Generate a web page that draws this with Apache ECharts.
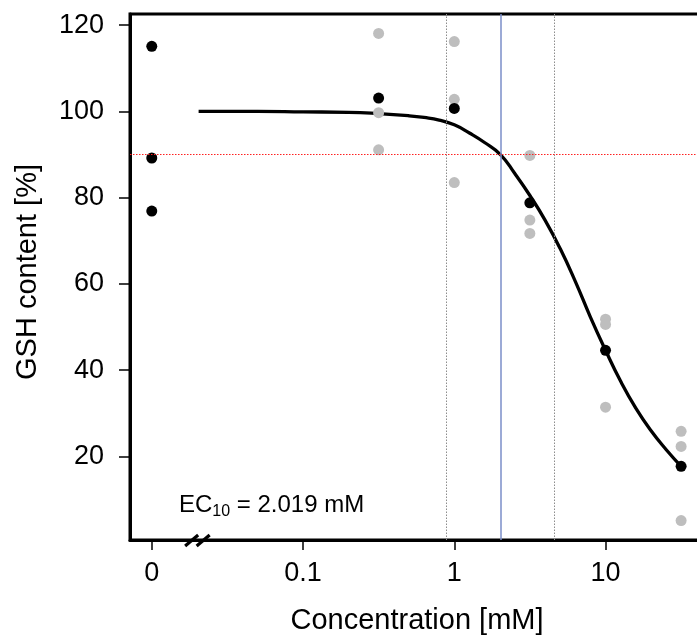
<!DOCTYPE html>
<html>
<head>
<meta charset="utf-8">
<script src="https://cdn.jsdelivr.net/npm/echarts@6/dist/echarts.min.js"></script>
<style>
html,body{margin:0;padding:0;background:#fff;}
#chart{width:697px;height:642px;}
</style>
</head>
<body>
<div id="chart"></div>
<script>
// ---- data (concentrations in mM; 0 = control, drawn at the 0.01 position of the log axis) ----
const controlConc = 0;
const controlPos = 0.01;
const controlValues = [115.1, 89.2, 76.9];
const doseConc = [0.316, 1, 3.16, 10, 31.6];
const replicates = [
  [118.1, 99.7, 91.1],
  [116.2, 102.8, 83.5],
  [89.8, 74.8, 71.7],
  [51.8, 50.6, 31.4],
  [25.8, 22.3, 5.1]
];
const doseMeans = [103.1, 100.7, 78.8, 44.6, 17.7];
// fitted curve
const curveConc = [0.0204, 0.05, 0.1, 0.2, 0.316, 0.5, 0.631, 0.794, 1, 1.259, 1.585, 2.019, 2.512, 3.162, 3.981, 5.012, 6.31, 7.943, 10, 12.59, 15.85, 19.95, 25.12, 31.6];
const curveValues = [100.0, 100.0, 99.9, 99.8, 99.5, 99.0, 98.6, 98.0, 96.9, 95.0, 92.8, 90.0, 85.6, 80.5, 74.8, 68.2, 60.6, 52.3, 44.6, 37.4, 31.2, 26.0, 21.6, 17.7];
// reference lines
const ec10 = 2.019;
const ec10Lower = 0.885;
const ec10Upper = 4.59;
const responseLevel = 90;
const breakConc = 0.0201;
// axes
const xTickConc = [0.01, 0.1, 1, 10];
const xTickLabels = ['0', '0.1', '1', '10'];
const yTicks = [20, 40, 60, 80, 100, 120];
const xMin = -2.144, xMax = 1.651;
const yMin = 0.6, yMax = 122.6;

const lg = v => Math.log10(v);
const xTickPos = xTickConc.map(lg);

const grayPts = [];
doseConc.forEach((c, i) => replicates[i].forEach(v => grayPts.push([lg(c), v])));
const blackPts = controlValues.map(v => [lg(controlPos), v]).concat(doseConc.map((c, i) => [lg(c), doseMeans[i]]));
const curvePts = curveConc.map((c, i) => [lg(c), curveValues[i]]);

const FONT = '"Liberation Sans", Arial, Helvetica, sans-serif';

const chart = echarts.init(document.getElementById('chart'), null, {renderer: 'canvas'});
chart.setOption({
  animation: false,
  backgroundColor: '#fff',
  textStyle: {fontFamily: FONT},
  grid: {left: 130, top: 14, width: 574, height: 526, outerBoundsMode: 'none', containLabel: false,
         show: true, borderColor: '#000', borderWidth: 3, backgroundColor: 'transparent'},
  xAxis: {
    type: 'value', min: xMin, max: xMax,
    axisLine: {show: true, onZero: false, lineStyle: {color: '#000', width: 3}},
    axisTick: {show: true, customValues: xTickPos, length: 10, lineStyle: {color: '#000', width: 1.5}},
    axisLabel: {
      show: true, customValues: xTickPos, margin: 20, fontSize: 27, color: '#000', fontFamily: FONT,
      formatter: v => {
        let best = 0;
        xTickPos.forEach((p, i) => { if (Math.abs(p - v) < Math.abs(xTickPos[best] - v)) best = i; });
        return xTickLabels[best];
      }
    },
    splitLine: {show: false},
    name: 'Concentration [mM]', nameLocation: 'middle', nameGap: 66,
    nameTextStyle: {fontSize: 29, color: '#000', fontFamily: FONT}
  },
  yAxis: {
    type: 'value', min: yMin, max: yMax,
    axisLine: {show: true, onZero: false, lineStyle: {color: '#000', width: 3}},
    axisTick: {show: true, customValues: yTicks, length: 11, lineStyle: {color: '#000', width: 1.5}},
    axisLabel: {show: true, customValues: yTicks, margin: 26, fontSize: 27, color: '#000', fontFamily: FONT},
    splitLine: {show: false},
    name: 'GSH content [%]', nameLocation: 'middle', nameGap: 88,
    nameTextStyle: {fontSize: 29, color: '#000', fontFamily: FONT, padding: [0, 0, 0, 10]}
  },
  series: [
    {
      type: 'line', data: [], silent: true, z: 1,
      markLine: {
        silent: true, symbol: ['none', 'none'], label: {show: false}, animation: false,
        data: [
          {xAxis: lg(ec10Lower), lineStyle: {color: '#8c8c8c', width: 1, type: [1.5, 1.5]}},
          {xAxis: lg(ec10Upper), lineStyle: {color: '#8c8c8c', width: 1, type: [1.5, 1.5]}},
          {xAxis: lg(ec10), lineStyle: {color: '#7b8ec8', width: 1.5, type: 'solid'}},
          {yAxis: responseLevel, lineStyle: {color: '#ff2020', width: 1, type: [1.5, 1.5]}}
        ]
      }
    },
    {
      type: 'line', data: curvePts, smooth: 0.5, symbol: 'none', z: 2,
      lineStyle: {color: '#000', width: 3.3}, silent: true
    },
    {
      type: 'scatter', data: grayPts, symbol: 'circle', symbolSize: 11, z: 3,
      itemStyle: {color: '#bebebe', opacity: 1}, silent: true
    },
    {
      type: 'scatter', data: blackPts, symbol: 'circle', symbolSize: 11, z: 4,
      itemStyle: {color: '#000', opacity: 1}, silent: true
    },
    {
      type: 'custom', data: [[lg(breakConc), yMin]], clip: false, z: 5, silent: true,
      renderItem: (params, api) => {
        const p = api.coord([api.value(0), api.value(1)]);
        return {
          type: 'group',
          children: [
            {type: 'line', shape: {x1: p[0] - 12.5, y1: p[1] + 6, x2: p[0] + 0.5, y2: p[1] - 5}, style: {stroke: '#000', lineWidth: 3.2}},
            {type: 'line', shape: {x1: p[0] - 1, y1: p[1] + 6, x2: p[0] + 12, y2: p[1] - 5}, style: {stroke: '#000', lineWidth: 3.2}}
          ]
        };
      }
    }
  ],
  graphic: [
    {
      type: 'text', left: 179, top: 493, silent: true,
      style: {
        text: '{n|EC}{s|10}{n| = 2.019 mM}',
        rich: {
          n: {fontSize: 24, lineHeight: 24, verticalAlign: 'top', fontFamily: FONT, fill: '#000'},
          s: {fontSize: 16, lineHeight: 16, verticalAlign: 'top', padding: [11, 0, 0, 0], fontFamily: FONT, fill: '#000'}
        }
      }
    }
  ]
});
</script>
</body>
</html>
